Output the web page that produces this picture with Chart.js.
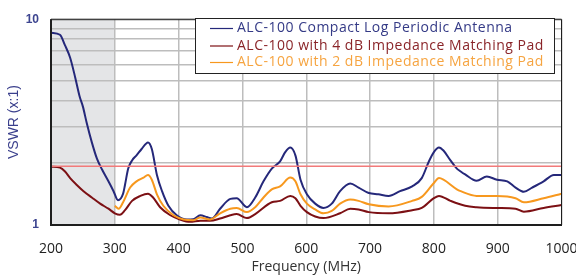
<!DOCTYPE html>
<html>
<head>
<meta charset="utf-8">
<script src="https://cdn.jsdelivr.net/npm/chart.js@4/dist/chart.umd.min.js"></script>
<style>
  html, body { margin: 0; padding: 0; background: #fff; }
  #wrap { width: 576px; height: 276px; position: relative; }
</style>
</head>
<body>
<div id="wrap"><canvas id="vswrChart"></canvas></div>
<script>
// Data (frequency in MHz, VSWR x:1)
const seriesNames = [
  'ALC-100 Compact Log Periodic Antenna',
  'ALC-100 with 4 dB Impedance Matching Pad',
  'ALC-100 with 2 dB Impedance Matching Pad'
];

const antFreq = [200, 214, 222, 230, 238, 245, 250, 256, 264, 272, 280, 290, 298, 305, 313, 316, 321, 327, 334, 342, 352, 358, 366, 374, 384, 397, 413, 423, 434, 444, 452, 465, 481, 491, 507, 520, 533, 546, 559, 567, 575, 583, 591, 601, 614, 627, 640, 653, 669, 682, 698, 713, 729, 747, 766, 781, 792, 800, 808, 815, 826, 836, 842, 849, 867, 883, 899, 915, 928, 941, 954, 972, 988, 1000];
const antVswr = [8.6, 8.4, 7.46, 6.5, 5.2, 4.2, 3.76, 3.13, 2.52, 2.1, 1.86, 1.63, 1.46, 1.32, 1.42, 1.57, 1.88, 2.06, 2.18, 2.34, 2.52, 2.34, 1.75, 1.46, 1.24, 1.115, 1.064, 1.067, 1.115, 1.094, 1.075, 1.2, 1.34, 1.35, 1.22, 1.36, 1.63, 1.88, 2.04, 2.26, 2.38, 2.18, 1.66, 1.41, 1.27, 1.21, 1.27, 1.46, 1.59, 1.52, 1.43, 1.41, 1.385, 1.46, 1.54, 1.69, 2.03, 2.26, 2.38, 2.30, 2.06, 1.88, 1.82, 1.76, 1.64, 1.72, 1.66, 1.63, 1.52, 1.45, 1.52, 1.63, 1.75, 1.75];

const pad4Freq = [200, 214, 222, 230, 240, 251, 264, 277, 290, 300, 308, 316, 327, 340, 352, 360, 371, 387, 402, 418, 434, 449, 465, 481, 491, 507, 520, 546, 559, 575, 583, 591, 601, 614, 627, 653, 669, 682, 698, 729, 766, 781, 800, 808, 826, 849, 867, 899, 928, 941, 972, 1000];
const pad4Vswr = [1.92, 1.90, 1.82, 1.69, 1.57, 1.46, 1.36, 1.27, 1.20, 1.14, 1.12, 1.18, 1.31, 1.385, 1.42, 1.36, 1.22, 1.115, 1.064, 1.036, 1.048, 1.048, 1.075, 1.115, 1.13, 1.08, 1.13, 1.29, 1.31, 1.385, 1.35, 1.24, 1.155, 1.10, 1.08, 1.14, 1.2, 1.19, 1.155, 1.14, 1.18, 1.21, 1.35, 1.385, 1.31, 1.24, 1.22, 1.21, 1.20, 1.16, 1.21, 1.25];

const pad2Freq = [300, 306, 313, 324, 334, 345, 352, 358, 366, 376, 392, 408, 423, 434, 449, 465, 481, 491, 507, 520, 533, 546, 559, 575, 583, 591, 601, 614, 627, 640, 653, 669, 682, 698, 729, 766, 781, 800, 808, 815, 836, 842, 867, 899, 928, 941, 972, 1000];
const pad2Vswr = [1.24, 1.2, 1.29, 1.52, 1.63, 1.70, 1.75, 1.66, 1.41, 1.24, 1.115, 1.064, 1.056, 1.087, 1.064, 1.14, 1.2, 1.21, 1.155, 1.22, 1.36, 1.49, 1.54, 1.70, 1.63, 1.41, 1.27, 1.19, 1.14, 1.17, 1.27, 1.33, 1.31, 1.26, 1.23, 1.31, 1.37, 1.60, 1.69, 1.66, 1.49, 1.46, 1.385, 1.385, 1.35, 1.29, 1.35, 1.42];

const limitFreq = [200, 1000];
const limitVswr = [1.93, 1.93];

const shadeRange = [200, 300];
const xTicks = [200, 300, 400, 500, 600, 700, 800, 900, 1000];
const yTicks = [1, 10];

const colors = ['#25287a', '#7c1014', '#f7981e'];
const textColors = ['#343a86', '#8a2428', '#f6a440'];

const toPoints = (xs, ys) => xs.map((x, i) => ({ x, y: ys[i] }));

// grey band 200-300 MHz under the grid
const shadePlugin = {
  id: 'shade',
  beforeDraw(chart) {
    const { ctx, chartArea, scales } = chart;
    const x0 = scales.x.getPixelForValue(shadeRange[0]);
    const x1 = scales.x.getPixelForValue(shadeRange[1]);
    ctx.save();
    ctx.fillStyle = '#e4e5e7';
    ctx.fillRect(x0, chartArea.top, x1 - x0, chartArea.bottom - chartArea.top);
    ctx.restore();
  }
};

// frame + legend box drawn on top
const framePlugin = {
  id: 'frame',
  afterDraw(chart) {
    const { ctx, chartArea: a } = chart;
    ctx.save();
    ctx.strokeStyle = '#1e1e1e';
    ctx.lineWidth = 1;
    ctx.strokeRect(a.left, a.top + 0.5, a.right - a.left, a.bottom - a.top);
    ctx.lineWidth = 2;
    ctx.beginPath();
    ctx.moveTo(a.left, a.top);
    ctx.lineTo(a.left, a.bottom);
    ctx.lineTo(a.right, a.bottom);
    ctx.stroke();

    // legend
    const bx = 195, by = 18, bw = 359, bh = 55;
    ctx.fillStyle = '#fff';
    ctx.fillRect(bx, by, bw, bh);
    ctx.lineWidth = 1;
    ctx.strokeStyle = '#222';
    ctx.strokeRect(bx + 0.5, by + 0.5, bw, bh);
    ctx.font = '14px "Open Sans", sans-serif';
    ctx.letterSpacing = '0.5px';
    ctx.textBaseline = 'middle';
    const rows = [28.5, 46, 62.5];
    seriesNames.forEach((name, i) => {
      ctx.strokeStyle = colors[i];
      ctx.lineWidth = 1.2;
      ctx.beginPath();
      ctx.moveTo(210, rows[i]);
      ctx.lineTo(233, rows[i]);
      ctx.stroke();
      ctx.fillStyle = textColors[i];
      ctx.fillText(name, 237, rows[i]);
    });
    ctx.restore();
  }
};

const lineStyle = (color) => ({
  borderColor: color,
  backgroundColor: color,
  borderWidth: 2,
  pointRadius: 0,
  tension: 0.4,
  cubicInterpolationMode: 'monotone',
  fill: false
});

new Chart(document.getElementById('vswrChart'), {
  type: 'line',
  data: {
    datasets: [
      { label: 'limit', data: toPoints(limitFreq, limitVswr), borderColor: '#f27a7a', borderWidth: 1.5, pointRadius: 0, fill: false },
      { label: seriesNames[2], data: toPoints(pad2Freq, pad2Vswr), ...lineStyle(colors[2]) },
      { label: seriesNames[1], data: toPoints(pad4Freq, pad4Vswr), ...lineStyle(colors[1]) },
      { label: seriesNames[0], data: toPoints(antFreq, antVswr), ...lineStyle(colors[0]) }
    ]
  },
  options: {
    responsive: true,
    maintainAspectRatio: false,
    animation: false,
    layout: { padding: { top: 13, right: 0, left: 0, bottom: 0 } },
    plugins: {
      legend: { display: false },
      tooltip: { enabled: false }
    },
    scales: {
      x: {
        type: 'linear',
        min: 200,
        max: 1000,
        ticks: {
          stepSize: 50,
          color: '#222',
          padding: 16,
          font: { family: '"Open Sans", sans-serif', size: 14 },
          callback: (v) => xTicks.includes(v) ? String(v) : '',
          maxRotation: 0
        },
        grid: { color: '#bdbdbd', lineWidth: 1.5, drawTicks: false },
        border: { display: false },
        title: {
          display: true,
          text: 'Frequency (MHz)',
          color: '#333',
          font: { family: '"Open Sans", sans-serif', size: 14 },
          padding: { top: 0, bottom: 1 }
        },
        afterFit: (s) => { s.height = 51; s.paddingRight = 14.5; s.paddingLeft = 0; }
      },
      y: {
        type: 'logarithmic',
        min: 1,
        max: 10,
        afterBuildTicks: (s) => {
          s.ticks = [1, 2, 3, 4, 5, 6, 7, 8, 9, 10].map(v => ({ value: v }));
        },
        ticks: {
          color: '#3d4590',
          padding: 12,
          autoSkip: false,
          font: { family: 'Arial, "Liberation Sans", sans-serif', size: 12, weight: 'bold' },
          callback: (v) => yTicks.includes(v) ? String(v) : ''
        },
        grid: { color: '#bdbdbd', lineWidth: 1.5, drawTicks: false },
        border: { display: false },
        title: {
          display: true,
          text: 'VSWR (x:1)',
          color: '#3a3f8c',
          font: { family: 'Arial, "Liberation Sans", sans-serif', size: 14 },
          padding: { top: 6, bottom: 0 }
        },
        afterFit: (s) => { s.width = 51; }
      }
    }
  },
  plugins: [shadePlugin, framePlugin]
});
</script>
</body>
</html>
